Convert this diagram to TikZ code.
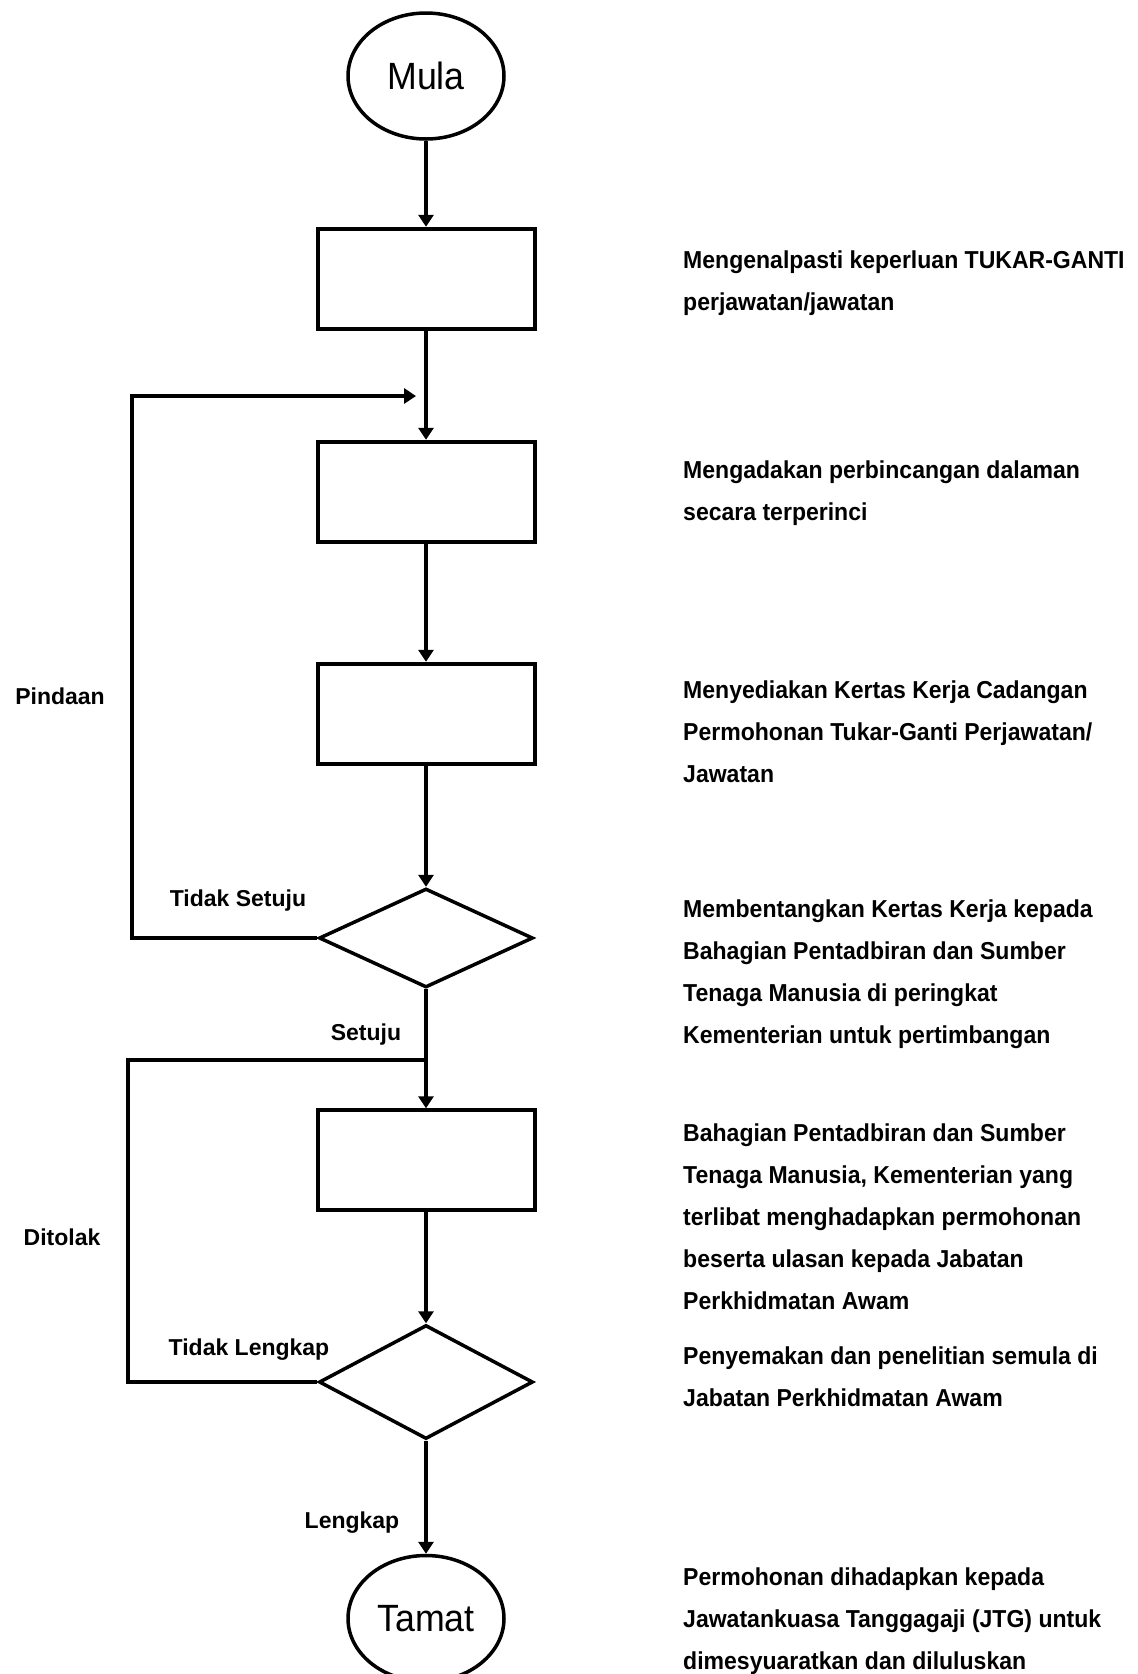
\documentclass[tikz,border=0pt]{standalone}
\usepackage{fontspec}
\setmainfont{Liberation Sans}
\newfontfamily\notefont[FakeStretch=0.94]{Liberation Sans}
\usetikzlibrary{shapes,arrows,arrows.meta,positioning}
\tikzstyle{terminal} = [draw, ellipse, line width=3.5pt, minimum width=156pt, minimum height=126pt, font=\notefont\fontsize{38}{40}\selectfont]
\tikzstyle{process} = [draw, rectangle, line width=4pt, minimum width=217pt, minimum height=100pt]
\tikzstyle{decision} = [draw, diamond, line width=3.5pt, minimum width=214pt, minimum height=99pt, inner sep=0pt]
\tikzstyle{line} = [draw, line width=3.5pt, -{Triangle[length=12pt,width=15pt]}]
\tikzstyle{branch} = [font=\bfseries\fontsize{23}{25}\selectfont]
\tikzstyle{note} = [anchor=base west, align=left, inner sep=0pt, font=\notefont\bfseries\fontsize{24.5}{42}\selectfont]

\begin{document}
\begin{tikzpicture}[x=1pt, y=-1pt]
    \useasboundingbox (0,0) rectangle (1138,1674);

    % Place nodes
    \node [terminal] (mula) at (426,76) {Mula};
    \node [process, below=86pt of mula] (kenal) {};
    \node [process, below=109pt of kenal] (bincang) {};
    \node [process, below=118pt of bincang] (sedia) {};
    \node [decision, below=121pt of sedia] (bentang) {};
    \node [process, below=119pt of bentang] (hadap) {};
    \node [decision, below=111pt of hadap, minimum height=114pt] (semak) {};
    \node [terminal, below=113pt of semak] (tamat) {Tamat};

    % Branch labels
    \node [branch] (pindaan) at (60,696) {Pindaan};
    \node [branch] (tidak-setuju) at (238,901) {Tidak Setuju};
    \node [branch] (setuju) at (366,1035) {Setuju};
    \node [branch] (ditolak) at (62,1237) {Ditolak};
    \node [branch] (tidak-lengkap) at (249,1350) {Tidak Lengkap};
    \node [branch] (lengkap) at (352,1523) {Lengkap};

    % Notes on the right (placed by the baseline of their last line)
    \node [note] (note-kenal) at (683,310) {Mengenalpasti keperluan TUKAR-GANTI\\perjawatan/jawatan};
    \node [note] (note-bincang) at (683,520) {Mengadakan perbincangan dalaman\\secara terperinci};
    \node [note] (note-sedia) at (683,782) {Menyediakan Kertas Kerja Cadangan\\Permohonan Tukar-Ganti Perjawatan/\\Jawatan};
    \node [note] (note-bentang) at (683,1043) {Membentangkan Kertas Kerja kepada\\Bahagian Pentadbiran dan Sumber\\Tenaga Manusia di peringkat\\Kementerian untuk pertimbangan};
    \node [note] (note-hadap) at (683,1309) {Bahagian Pentadbiran dan Sumber\\Tenaga Manusia, Kementerian yang\\terlibat menghadapkan permohonan\\beserta ulasan kepada Jabatan\\Perkhidmatan Awam};
    \node [note] (note-semak) at (683,1406) {Penyemakan dan penelitian semula di\\Jabatan Perkhidmatan Awam};
    \node [note] (note-tamat) at (683,1669) {Permohonan dihadapkan kepada\\Jawatankuasa Tanggagaji (JTG) untuk\\dimesyuaratkan dan diluluskan};

    % Helper coordinates for the loops
    \coordinate (pindaan-top) at (132,396);
    \coordinate (pindaan-in) at (416,396);
    \coordinate (ditolak-top) at (128,1060);
    \coordinate (ditolak-join) at (426,1060);

    % Draw edges
    \path [line] (mula) -- (kenal);
    \path [line] (kenal) -- (bincang);
    \path [line] (bincang) -- (sedia);
    \path [line] (sedia) -- (bentang);
    \path [line] (bentang) -- (hadap);
    \path [line] (hadap) -- (semak);
    \path [line] (semak) -- (tamat);
    \path [line] (bentang.west) -| (pindaan-top) -- (pindaan-in);
    \draw [line width=3.5pt] (semak.west) -| (ditolak-top) -- (ditolak-join);
\end{tikzpicture}
\end{document}
